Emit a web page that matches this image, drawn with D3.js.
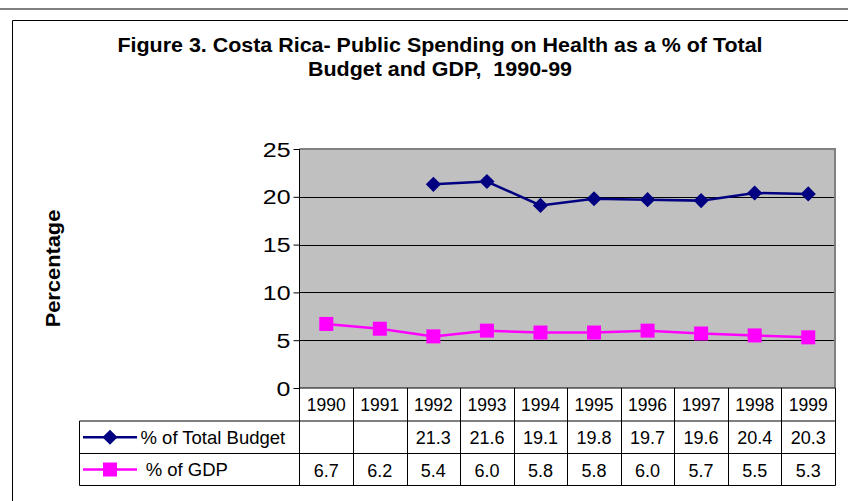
<!DOCTYPE html>
<html><head><meta charset="utf-8">
<script src="https://cdn.jsdelivr.net/npm/d3@7"></script>
<style>body{margin:0;background:#fff}svg{display:block;font-family:Arial,"Liberation Sans",sans-serif}text{white-space:pre}</style>
</head><body>
<svg id="c" width="848" height="501"></svg>
<script>
const years = ["1990","1991","1992","1993","1994","1995","1996","1997","1998","1999"];
const totalBudget = [null,null,21.3,21.6,19.1,19.8,19.7,19.6,20.4,20.3];
const gdp = [6.7,6.2,5.4,6.0,5.8,5.8,6.0,5.7,5.5,5.3];
const yTicks = [0,5,10,15,20,25];
const seriesNames = ["% of Total Budget"," % of GDP"];
const titleLines = ["Figure 3. Costa Rica- Public Spending on Health as a % of Total","Budget and GDP,  1990-99"];

const svg = d3.select("#c");
const L = 299.5, R = 835, T = 149, B = 388;
const legL = 79.5;
const rowY = [388, 421, 453.5, 485.5];

// top gray rule and outer frame
svg.append("rect").attr("x",0).attr("y",8).attr("width",848).attr("height",2).attr("fill","#808080");
svg.append("path").attr("d","M12.5,501 V20.5 H848").attr("fill","none").attr("stroke","#000");

// titles
svg.selectAll("text.title").data(titleLines).join("text").attr("class","title")
  .attr("transform",(d,i)=>`translate(440,${52.3+i*23.5}) scale(1.1,1)`).attr("text-anchor","middle")
  .attr("font-weight","bold").attr("font-size",19.5).text(d=>d);

// y label
svg.append("text").attr("transform","translate(59.5,268.5) rotate(-90) scale(1.12,1)")
  .attr("text-anchor","middle").attr("font-weight","bold").attr("font-size",19.5).text("Percentage");

const x = d3.scaleBand().domain(years).range([L,R]);
const y = d3.scaleLinear().domain([0,25]).range([B,T]);

// plot background
svg.append("rect").attr("x",L).attr("y",T).attr("width",R-L).attr("height",B-T).attr("fill","#C0C0C0");
// gridlines
svg.selectAll("line.grid").data(yTicks.filter(v=>v>0&&v<25)).join("line").attr("class","grid")
  .attr("x1",L).attr("x2",R).attr("y1",d=>Math.round(y(d))+0.5).attr("y2",d=>Math.round(y(d))+0.5)
  .attr("stroke","#000").attr("stroke-width",1);
// gray plot border top/right
svg.append("path").attr("d",`M${L},${T} H${R} V${B}`).attr("fill","none").attr("stroke","#808080").attr("stroke-width",2);

// y axis
const yAxis = d3.axisLeft(y).tickValues(yTicks).tickSize(6).tickPadding(4);
const ga = svg.append("g").attr("transform",`translate(${L},0)`).call(yAxis);
ga.select(".domain").remove();
ga.selectAll(".tick line").attr("stroke","#000");
ga.selectAll(".tick text").attr("font-size",19.5).attr("fill","#000")
  .attr("font-family","Arial,'Liberation Sans',sans-serif")
  .attr("x",0).attr("dy",0).attr("y",0)
  .attr("transform","translate(-9,7) scale(1.28,1)");

// lines
const cx = d => x(d)+x.bandwidth()/2;
const line = d3.line().defined(d=>d.v!=null).x(d=>cx(d.k)).y(d=>y(d.v));
const bData = years.map((k,i)=>({k,v:totalBudget[i]}));
const gData = years.map((k,i)=>({k,v:gdp[i]}));
svg.append("path").datum(gData).attr("d",line).attr("fill","none").attr("stroke","#FF00FF").attr("stroke-width",2.5);
svg.append("path").datum(bData).attr("d",line).attr("fill","none").attr("stroke","#000080").attr("stroke-width",2.5);
svg.selectAll("rect.sq").data(gData).join("rect").attr("class","sq")
  .attr("x",d=>cx(d.k)-7).attr("y",d=>y(d.v)-7).attr("width",14).attr("height",14).attr("fill","#FF00FF");
svg.selectAll("path.dm").data(bData.filter(d=>d.v!=null)).join("path").attr("class","dm")
  .attr("transform",d=>`translate(${cx(d.k)},${y(d.v)}) rotate(45)`)
  .attr("d",d3.symbol().type(d3.symbolSquare).size(115)).attr("fill","#000080");

// table
const tg = svg.append("g");
tg.append("line").attr("x1",L).attr("x2",L).attr("y1",T).attr("y2",rowY[3]).attr("stroke","#000");
tg.selectAll("line.col").data(years).join("line").attr("class","col")
  .attr("x1",d=>Math.round(x(d)+x.bandwidth())+0.5).attr("x2",d=>Math.round(x(d)+x.bandwidth())+0.5)
  .attr("y1",rowY[0]).attr("y2",rowY[3]).attr("stroke","#000");
tg.append("line").attr("x1",legL).attr("x2",legL).attr("y1",rowY[1]).attr("y2",rowY[3]).attr("stroke","#000");
tg.append("line").attr("x1",L).attr("x2",R).attr("y1",rowY[0]).attr("y2",rowY[0]).attr("stroke","#000");
[1,2,3].forEach(i=>tg.append("line").attr("x1",legL).attr("x2",R+0.5).attr("y1",rowY[i]).attr("y2",rowY[i]).attr("stroke","#000"));

const fmt = d3.format(".1f");
tg.selectAll("text.yr").data(years).join("text").attr("class","yr")
  .attr("x",d=>cx(d)).attr("y",rowY[0]+23).attr("text-anchor","middle").attr("font-size",17.5).text(d=>d);
tg.selectAll("text.b").data(bData.filter(d=>d.v!=null)).join("text").attr("class","b")
  .attr("x",d=>cx(d.k)).attr("y",rowY[1]+23).attr("text-anchor","middle").attr("font-size",18).text(d=>fmt(d.v));
tg.selectAll("text.g").data(gData).join("text").attr("class","g")
  .attr("x",d=>cx(d.k)).attr("y",rowY[2]+23).attr("text-anchor","middle").attr("font-size",18).text(d=>fmt(d.v));

// legend keys
const ly1 = (rowY[1]+rowY[2])/2, ly2 = (rowY[2]+rowY[3])/2;
tg.append("line").attr("x1",83).attr("x2",137).attr("y1",ly1).attr("y2",ly1).attr("stroke","#000080").attr("stroke-width",2.5);
tg.append("path").attr("transform",`translate(110,${ly1}) rotate(45)`).attr("d",d3.symbol().type(d3.symbolSquare).size(115)).attr("fill","#000080");
tg.append("line").attr("x1",83).attr("x2",137).attr("y1",ly2).attr("y2",ly2).attr("stroke","#FF00FF").attr("stroke-width",2.5);
tg.append("rect").attr("x",103).attr("y",ly2-7).attr("width",14).attr("height",14).attr("fill","#FF00FF");
tg.selectAll("text.lg").data(seriesNames).join("text").attr("class","lg")
  .attr("x",140.5).attr("y",(d,i)=>[ly1,ly2][i]+6.5).attr("font-size",18.5).text(d=>d);
</script>
</body></html>
